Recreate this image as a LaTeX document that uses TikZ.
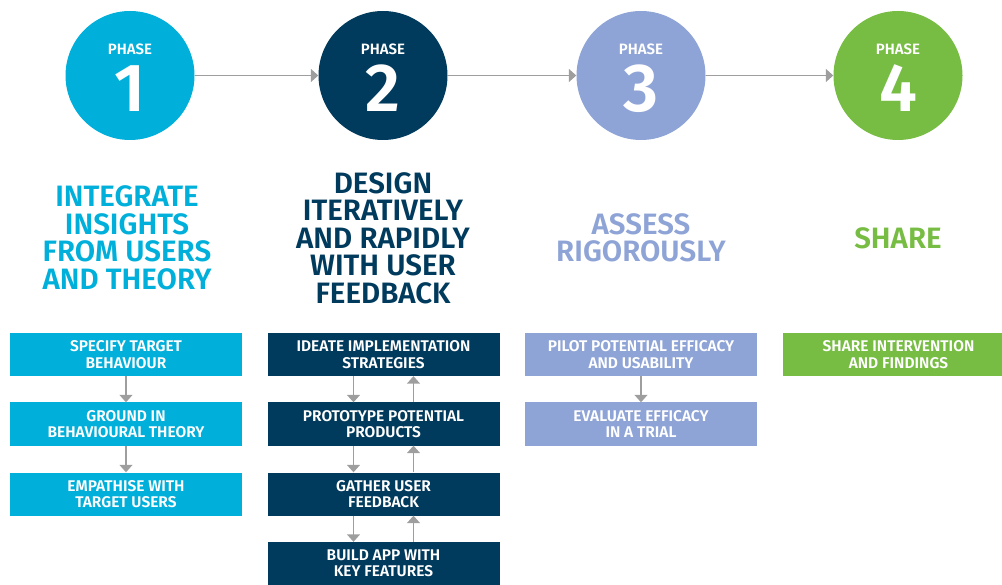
\documentclass[tikz,border=0pt]{standalone}
\usepackage{fontspec}
\setmainfont{Fira Sans}[BoldFont={Fira Sans SemiBold}]
\usetikzlibrary{arrows.meta}
\definecolor{phaseone}{HTML}{00B0DA}
\definecolor{phasetwo}{HTML}{003A5C}
\definecolor{phasethree}{HTML}{8FA4D6}
\definecolor{phasefour}{HTML}{77BC43}
\definecolor{arrowgrey}{HTML}{9E9E9E}

\begin{document}
\begin{tikzpicture}[x=1pt, y=-1pt,
  phasecircle/.style={circle, minimum size=129pt, inner sep=0pt},
  phasehead/.style={text=white, font=\bfseries\fontsize{15}{15}\selectfont, inner sep=0pt},
  phasenum/.style={text=white, font=\bfseries\fontsize{68}{68}\selectfont, inner sep=0pt},
  steptitle/.style={align=center, inner sep=0pt, font=\bfseries\fontsize{29.5}{27.5}\selectfont},
  stepbox/.style={minimum width=232pt, minimum height=43pt, inner sep=0pt, align=center,
    text=white, font=\bfseries\fontsize{15.5}{16.5}\selectfont},
  flowarrow/.style={draw=arrowgrey, line width=1.4pt, -{Triangle[width=13pt,length=7.5pt]}, arrowgrey}]

\path[use as bounding box, clip] (0,0) rectangle (1002,585);

% phase circles
\node[phasecircle, fill=phaseone]   (p1) at (130,75.5) {};
\node[phasecircle, fill=phasetwo]   (p2) at (383,75.5) {};
\node[phasecircle, fill=phasethree] (p3) at (641,75.5) {};
\node[phasecircle, fill=phasefour]  (p4) at (898,75.5) {};

\node[phasehead] (p1head) at (130,49) {PHASE};
\node[phasehead] (p2head) at (383,49) {PHASE};
\node[phasehead] (p3head) at (641,49) {PHASE};
\node[phasehead] (p4head) at (898,49) {PHASE};
\node[phasenum] (p1num) at (130,88.5) {1};
\node[phasenum] (p2num) at (383,88.5) {2};
\node[phasenum] (p3num) at (641,88.5) {3};
\node[phasenum] (p4num) at (898,88.5) {4};

\draw[flowarrow] (p1) -- (p2);
\draw[flowarrow] (p2) -- (p3);
\draw[flowarrow] (p3) -- (p4);

% titles
\node[steptitle, text=phaseone]   (t1) at (127,238) {INTEGRATE\\INSIGHTS\\FROM USERS\\AND THEORY};
\node[steptitle, text=phasetwo]   (t2) at (383,238) {DESIGN\\ITERATIVELY\\AND RAPIDLY\\WITH USER\\FEEDBACK};
\node[steptitle, text=phasethree] (t3) at (641,238) {ASSESS\\RIGOROUSLY};
\node[steptitle, text=phasefour]  (t4) at (898,238) {SHARE};

% step boxes
\node[stepbox, fill=phaseone] (s11) at (126,354.5) {SPECIFY TARGET\\BEHAVIOUR};
\node[stepbox, fill=phaseone] (s12) at (126,424) {GROUND IN\\BEHAVIOURAL THEORY};
\node[stepbox, fill=phaseone] (s13) at (126,494) {EMPATHISE WITH\\TARGET USERS};

\node[stepbox, fill=phasetwo] (s21) at (383.5,354.5) {IDEATE IMPLEMENTATION\\STRATEGIES};
\node[stepbox, fill=phasetwo] (s22) at (383.5,424) {PROTOTYPE POTENTIAL\\PRODUCTS};
\node[stepbox, fill=phasetwo] (s23) at (383.5,494) {GATHER USER\\FEEDBACK};
\node[stepbox, fill=phasetwo] (s24) at (383.5,563.5) {BUILD APP WITH\\KEY FEATURES};

\node[stepbox, fill=phasethree] (s31) at (641,354.5) {PILOT POTENTIAL EFFICACY\\AND USABILITY};
\node[stepbox, fill=phasethree] (s32) at (641,424) {EVALUATE EFFICACY\\IN A TRIAL};

\node[stepbox, fill=phasefour] (s41) at (898.5,354.5) {SHARE INTERVENTION\\AND FINDINGS};

% arrows between steps
\draw[flowarrow] (s11) -- (s12);
\draw[flowarrow] (s12) -- (s13);
\draw[flowarrow] (s31) -- (s32);

\draw[flowarrow] ([xshift=-30pt]s21.south) -- ([xshift=-30pt]s22.north);
\draw[flowarrow] ([xshift=-30pt]s22.south) -- ([xshift=-30pt]s23.north);
\draw[flowarrow] ([xshift=-30pt]s23.south) -- ([xshift=-30pt]s24.north);
\draw[flowarrow] ([xshift=30pt]s22.north) -- ([xshift=30pt]s21.south);
\draw[flowarrow] ([xshift=30pt]s23.north) -- ([xshift=30pt]s22.south);
\draw[flowarrow] ([xshift=30pt]s24.north) -- ([xshift=30pt]s23.south);

\end{tikzpicture}
\end{document}
